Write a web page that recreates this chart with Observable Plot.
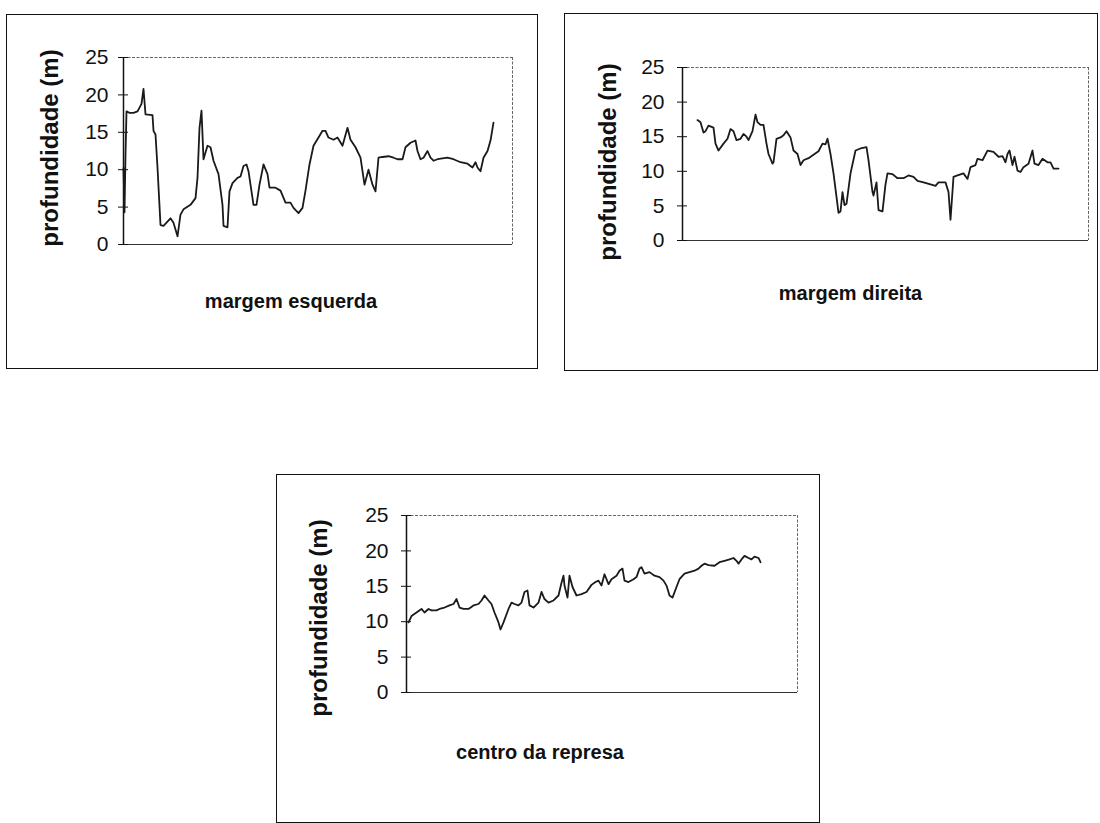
<!DOCTYPE html>
<html><head><meta charset="utf-8">
<script src="https://cdn.jsdelivr.net/npm/d3@7"></script>
<script src="https://cdn.jsdelivr.net/npm/@observablehq/plot@0.6"></script>
<style>
body{margin:0;background:#fff;}
#root{position:relative;width:1100px;height:823px;overflow:hidden;background:#fff;}
.panel{position:absolute;outline:1.5px solid #111;}
</style></head><body><div id="root"></div>
<script>
const yTicks = [0, 5, 10, 15, 20, 25];
const yLabel = "profundidade (m)";

// margem esquerda: ponto ao longo do transecto / profundidade (m)
const esqPonto = [0,1,2,3,6,10,14,18,20,22,29,30,32,34,37,40,47,50,54,57,60,67,72,74,76,78,80,84,87,90,95,99,100,104,106,109,114,117,120,123,125,130,133,136,140,144,146,152,157,162,167,170,175,179,182,186,190,195,199,202,205,210,214,219,224,227,232,237,241,245,249,252,255,259,265,270,274,279,282,287,292,294,297,300,304,307,310,314,319,324,330,337,344,349,352,354,357,360,364,367,370];
const esqProf  = [10.2,4.3,12.0,17.8,17.6,17.6,17.8,18.8,20.8,17.4,17.3,15.2,14.7,10.3,2.6,2.5,3.5,2.9,1.1,4.0,4.7,5.3,6.2,8.9,15.6,17.9,11.4,13.2,13.0,11.2,9.4,5.3,2.5,2.3,7.1,8.2,8.9,9.1,10.5,10.7,9.8,5.3,5.3,8.0,10.7,9.4,7.6,7.6,7.2,5.6,5.6,4.9,4.2,4.9,7.2,10.7,13.2,14.3,15.2,15.2,14.3,14.0,14.3,13.2,15.6,14.0,13.0,11.6,8.0,10.0,8.0,7.1,11.6,11.7,11.8,11.6,11.4,11.4,13.0,13.6,13.9,12.5,11.4,11.6,12.5,11.6,11.2,11.4,11.5,11.6,11.4,11.0,10.8,10.3,11.0,10.3,9.8,11.6,12.5,13.9,16.3];

// margem direita
const dirPonto = [15,18,21,23,26,31,33,36,41,45,48,51,54,58,61,64,66,70,73,75,78,81,84,86,90,91,94,98,101,104,108,111,115,118,121,126,131,136,140,143,145,148,151,154,156,158,160,162,164,168,173,178,184,186,190,191,194,196,200,203,205,210,215,221,226,231,235,241,248,253,256,263,266,268,271,275,281,285,288,293,295,300,305,311,316,320,323,325,327,330,332,335,338,341,346,350,352,356,360,365,368,371,376];
const dirProf  = [17.4,17.1,15.6,15.8,16.6,16.3,14.0,13.0,14.0,14.7,16.1,15.8,14.5,14.7,15.4,15.0,14.5,15.8,18.2,17.1,16.7,16.7,14.0,12.5,11.1,11.3,14.7,14.9,15.2,15.8,14.9,13.0,12.5,10.9,11.6,11.9,12.4,12.9,14.0,13.9,14.7,12.5,9.7,6.3,4.0,4.2,7.0,5.1,5.3,9.7,13.0,13.3,13.5,11.6,7.0,6.5,8.4,4.4,4.2,8.1,9.7,9.6,9.0,9.0,9.4,9.2,8.6,8.4,8.1,7.9,8.4,8.4,7.0,3.0,9.2,9.4,9.7,8.9,10.6,10.9,11.8,11.6,13.0,12.8,12.1,12.2,11.3,12.5,13.0,10.9,12.1,10.1,9.9,10.6,11.1,13.0,11.1,10.9,11.8,11.3,11.3,10.4,10.4];

// centro da represa
const cenPonto = [2,5,10,15,18,22,25,30,33,38,43,47,50,53,57,62,67,72,75,78,82,85,88,92,94,97,102,105,108,112,115,118,121,123,127,132,135,138,142,147,152,155,157,158,161,163,166,170,175,180,185,189,192,195,198,202,205,210,213,216,218,222,227,230,233,235,238,243,248,253,257,260,263,266,270,273,278,283,288,292,295,298,302,308,313,318,323,327,330,332,335,338,342,345,348,352,354];
const cenProf  = [9.9,10.8,11.3,11.8,11.3,11.8,11.6,11.6,11.8,12.0,12.3,12.5,13.2,12.0,11.8,11.8,12.3,12.5,13.0,13.7,13.0,12.5,11.3,9.9,8.9,9.9,11.8,12.7,12.5,12.3,12.7,14.2,14.4,12.3,12.0,12.7,14.2,13.2,12.7,13.0,13.7,15.5,16.5,15.1,13.4,16.5,14.9,13.7,13.9,14.2,15.2,15.6,15.8,15.1,16.7,15.3,16.0,16.5,17.2,17.5,15.8,15.6,16.0,16.3,17.5,17.7,16.8,17.0,16.5,16.3,15.8,15.1,13.7,13.4,14.9,16.0,16.8,17.0,17.2,17.5,17.9,18.2,18.0,17.9,18.4,18.6,18.8,19.0,18.6,18.2,18.8,19.3,19.0,18.8,19.2,19.0,18.4];

const panels = [
  {title:"margem esquerda", ponto:esqPonto, prof:esqProf, n:389,
   left:7, top:15, w:530, h:353, ml:116, mr:25, mt:42, mb:124, pad:15, labelDx:-73, labelDy:-3, titleDx:-27, titleDy:57},
  {title:"margem direita", ponto:dirPonto, prof:dirProf, n:406,
   left:565, top:14, w:532, h:356, ml:117, mr:9, mt:53, mb:130, pad:18, labelDx:-74, labelDy:8, titleDx:-35, titleDy:53},
  {title:"centro da represa", ponto:cenPonto, prof:cenProf, n:391,
   left:277, top:475, w:542, h:347, ml:129, mr:22, mt:40, mb:130, pad:18, labelDx:-87, labelDy:14, titleDx:-62, titleDy:60}
];

const root = document.getElementById("root");
for (const o of panels) {
  const data = o.ponto.map((p, i) => ({ponto: p, prof: o.prof[i]}));
  const chart = Plot.plot({
    width: o.w, height: o.h,
    marginLeft: o.ml, marginRight: o.mr, marginTop: o.mt, marginBottom: o.mb,
    style: {fontFamily: "'Liberation Sans', Arial, Helvetica, sans-serif", background: "#fff", color: "#111", overflow: "visible"},
    x: {domain: [0, o.n], axis: null},
    y: {domain: [0, 25], axis: null},
    marks: [
      Plot.ruleY([25], {stroke: "#666", strokeWidth: 1, strokeDasharray: "3,1.5"}),
      Plot.ruleX([o.n], {stroke: "#666", strokeWidth: 1, strokeDasharray: "3,1.5"}),
      Plot.ruleY([0], {stroke: "#333", strokeWidth: 1.2}),
      Plot.ruleX([0], {stroke: "#111", strokeWidth: 1.5}),
      Plot.axisY({ticks: yTicks, tickSize: 0, tickPadding: o.pad, fontSize: 21, label: null}),
      Plot.axisY({ticks: yTicks, tickSize: 10, dx: 5, tickFormat: () => "", label: null, stroke: "#111"}),
      Plot.line(data, {x: "ponto", y: "prof", stroke: "#1a1a1a", strokeWidth: 1.8}),
      Plot.text([yLabel], {frameAnchor: "left", textAnchor: "middle", lineAnchor: "middle", rotate: -90, dx: o.labelDx, dy: o.labelDy, fontSize: 24, fontWeight: "bold"}),
      Plot.text([o.title], {frameAnchor: "bottom", textAnchor: "middle", lineAnchor: "middle", dx: o.titleDx, dy: o.titleDy, fontSize: 20, fontWeight: "bold"})
    ]
  });
  chart.classList.add("panel");
  chart.style.left = o.left + "px";
  chart.style.top = o.top + "px";
  root.appendChild(chart);
}
</script>
</body></html>
